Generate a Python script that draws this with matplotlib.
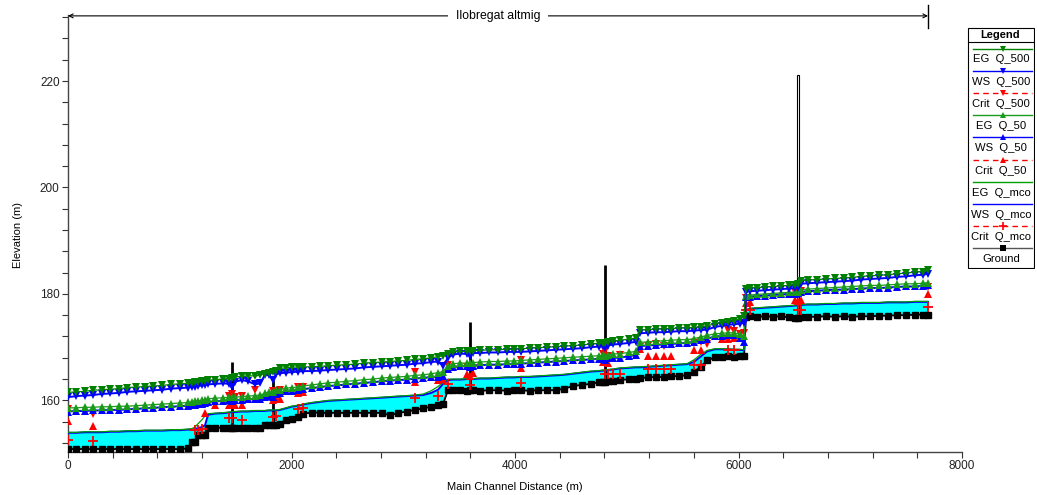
import numpy as np
import matplotlib
matplotlib.use("Agg")
import matplotlib.pyplot as plt
from matplotlib.patches import Rectangle
from matplotlib.ticker import MultipleLocator

plt.rcParams['font.family'] = ['Liberation Sans', 'DejaVu Sans']

# main channel stations (m)
stations = [0, 75, 150, 221, 300, 380, 455, 530, 610, 690, 765, 845, 920, 1000, 1074,
            1110, 1136, 1163, 1200, 1226, 1253,
            1315, 1390, 1440, 1468, 1490, 1554, 1610, 1673, 1718, 1760, 1800, 1835, 1860, 1897, 1950, 2000, 2060, 2100,
            2180, 2255, 2330, 2410, 2490, 2570, 2650, 2730, 2810, 2880, 2950, 3030, 3105, 3180, 3250, 3311, 3356, 3400, 3445,
            3510, 3570, 3597, 3620, 3690, 3770, 3850, 3930, 3990, 4050, 4130, 4210, 4290, 4370, 4440, 4520, 4600, 4680,
            4750, 4790, 4805, 4830, 4880, 4940,
            5020, 5080, 5117, 5190, 5260, 5330, 5400, 5470, 5540, 5600, 5660, 5720, 5790, 5850, 5910, 5960, 6010, 6050,
            6066, 6100, 6170, 6240, 6310, 6380, 6450, 6510, 6532, 6555, 6620, 6700, 6780, 6860, 6940, 7020, 7100, 7180,
            7260, 7340, 7420, 7500, 7580, 7650, 7696]

ground = [150.9, 150.8, 150.9, 150.8, 150.9, 150.8, 150.9, 150.8, 150.9, 150.8, 150.9, 150.8, 150.9, 150.8, 151.0,
          152.2, 152.2, 153.4, 153.4, 153.5, 154.9,
          154.9, 154.8, 154.9, 154.9, 154.8, 154.9, 154.8, 154.9, 154.9, 155.3, 155.3, 155.4, 155.4, 155.6, 156.4, 156.5, 156.9, 157.5,
          157.7, 157.7, 157.6, 157.7, 157.6, 157.7, 157.6, 157.7, 157.6, 157.2, 157.6, 157.9, 158.2, 158.5, 158.8, 159.1, 159.3, 161.9, 161.9,
          161.9, 161.8, 161.9, 161.9, 161.8, 161.9, 161.9, 161.8, 161.9, 161.9, 161.8, 161.9, 161.9, 161.9, 162.2, 162.7, 162.9, 163.1,
          163.4, 163.5, 163.5, 163.6, 163.7, 163.8,
          164.0, 164.1, 164.2, 164.3, 164.4, 164.4, 164.5, 164.6, 164.7, 165.3, 166.3, 167.5, 168.1, 168.2, 168.3, 168.2, 168.3, 168.3,
          175.7, 175.8, 175.7, 175.8, 175.7, 175.8, 175.6, 175.5, 175.5, 175.6, 175.7, 175.7, 175.8, 175.7, 175.8, 175.7, 175.8, 175.8,
          175.9, 175.9, 176.0, 176.0, 176.1, 176.1, 176.1]

ws_mco = [153.9, 153.9, 154.0, 154.0, 154.0, 154.1, 154.1, 154.2, 154.2, 154.3, 154.3, 154.3, 154.4, 154.4, 154.5,
          154.5, 154.6, 154.8, 155.0, 155.3, 157.3,
          157.5, 157.6, 157.7, 157.8, 157.8, 157.9, 157.9, 158.0, 158.0, 158.0, 158.1, 158.1, 158.1, 158.2, 158.5, 158.8, 159.0, 159.2,
          159.5, 159.7, 159.9, 160.0, 160.1, 160.2, 160.3, 160.4, 160.5, 160.6, 160.7, 160.8, 160.9, 161.0, 161.4, 162.0, 163.1, 163.8, 163.9,
          163.9, 164.0, 164.0, 164.0, 164.1, 164.1, 164.2, 164.3, 164.3, 164.4, 164.4, 164.5, 164.6, 164.7, 164.8, 165.0, 165.2, 165.4,
          165.5, 165.6, 165.6, 165.7, 165.8, 166.0,
          166.1, 166.2, 166.2, 166.3, 166.4, 166.5, 166.6, 166.7, 166.8, 167.2, 168.2, 169.2, 169.6, 169.6, 169.6, 169.5, 169.5, 169.4,
          176.9, 177.2, 177.3, 177.4, 177.5, 177.6, 177.7, 177.8, 177.9, 177.9, 178.0, 178.0, 178.1, 178.1, 178.2, 178.2, 178.3, 178.3,
          178.3, 178.4, 178.4, 178.4, 178.5, 178.5, 178.5]

eg_mco = [154.0, 154.0, 154.1, 154.1, 154.1, 154.2, 154.2, 154.3, 154.3, 154.4, 154.4, 154.4, 154.5, 154.5, 154.6,
          154.7, 155.0, 155.6, 156.4, 157.1, 157.5,
          157.6, 157.7, 157.8, 157.9, 157.9, 158.0, 158.0, 158.1, 158.1, 158.1, 158.2, 158.2, 158.2, 158.3, 158.6, 158.9, 159.1, 159.3,
          159.6, 159.8, 160.0, 160.1, 160.2, 160.3, 160.4, 160.5, 160.6, 160.7, 160.8, 160.9, 161.0, 161.2, 161.8, 162.6, 163.4, 164.0, 164.0,
          164.0, 164.1, 164.1, 164.1, 164.2, 164.2, 164.3, 164.4, 164.4, 164.5, 164.5, 164.6, 164.7, 164.8, 164.9, 165.1, 165.3, 165.5,
          165.6, 165.7, 165.7, 165.8, 165.9, 166.1,
          166.2, 166.3, 166.3, 166.4, 166.5, 166.6, 166.7, 166.8, 166.9, 167.6, 168.6, 169.4, 169.7, 169.7, 169.7, 169.6, 169.6, 169.5,
          177.0, 177.3, 177.4, 177.5, 177.6, 177.7, 177.8, 177.9, 178.0, 178.0, 178.1, 178.1, 178.2, 178.2, 178.3, 178.3, 178.4, 178.4,
          178.4, 178.5, 178.5, 178.5, 178.6, 178.6, 178.6]

ws_50 = [157.9, 158.0, 158.0, 158.1, 158.1, 158.2, 158.2, 158.3, 158.4, 158.5, 158.6, 158.7, 158.8, 158.9, 159.0,
         159.1, 159.2, 159.3, 159.4, 159.5, 159.7,
         159.8, 159.9, 160.0, 159.8, 160.0, 160.1, 160.2, 160.2, 160.3, 160.6, 160.9, 160.7, 161.2, 161.4, 161.7, 161.8, 162.0, 162.1,
         162.3, 162.5, 162.7, 162.8, 163.0, 163.1, 163.3, 163.4, 163.6, 163.7, 163.8, 163.9, 164.1, 164.2, 164.4, 164.3, 164.6, 165.9, 166.3,
         166.4, 166.4, 166.2, 166.5, 166.6, 166.7, 166.7, 166.8, 166.8, 166.9, 167.0, 167.1, 167.2, 167.3, 167.4, 167.5, 167.6, 167.7,
         167.8, 167.8, 167.5, 167.9, 168.0, 168.0,
         168.3, 168.5, 170.2, 170.3, 170.4, 170.5, 170.6, 170.7, 170.8, 171.0, 171.3, 171.6, 172.0, 172.1, 172.2, 172.2, 171.8, 171.0,
         179.4, 179.5, 179.6, 179.7, 179.8, 179.9, 180.0, 180.0, 180.1, 180.4, 180.5, 180.6, 180.7, 180.8, 180.8, 180.9, 181.0, 181.1,
         181.1, 181.2, 181.3, 181.4, 181.4, 181.5, 181.6]

eg_50 = [158.6, 158.6, 158.7, 158.7, 158.8, 158.8, 158.9, 158.9, 159.0, 159.1, 159.2, 159.3, 159.4, 159.5, 159.6,
         159.7, 159.8, 159.9, 160.0, 160.1, 160.3,
         160.4, 160.5, 160.6, 160.6, 160.6, 160.7, 160.8, 160.9, 161.0, 161.3, 161.6, 161.6, 161.9, 162.0, 162.3, 162.4, 162.5, 162.7,
         162.9, 163.1, 163.3, 163.4, 163.6, 163.7, 163.9, 164.0, 164.2, 164.3, 164.4, 164.5, 164.7, 164.8, 165.0, 165.2, 165.4, 166.5, 166.9,
         167.0, 167.0, 167.0, 167.1, 167.2, 167.3, 167.3, 167.4, 167.4, 167.5, 167.6, 167.7, 167.8, 167.9, 168.0, 168.1, 168.2, 168.3,
         168.4, 168.5, 168.4, 168.6, 168.7, 168.8,
         169.0, 169.2, 170.9, 171.0, 171.1, 171.2, 171.3, 171.4, 171.4, 171.6, 171.9, 172.2, 172.5, 172.6, 172.7, 172.7, 172.4, 172.0,
         179.7, 179.8, 179.9, 180.0, 180.1, 180.2, 180.3, 180.3, 180.4, 180.8, 180.9, 181.0, 181.1, 181.2, 181.3, 181.4, 181.5, 181.6,
         181.6, 181.7, 181.8, 181.9, 181.9, 182.0, 182.1]

ws_500 = [160.6, 160.8, 160.9, 161.0, 161.2, 161.3, 161.4, 161.6, 161.7, 161.8, 161.9, 162.0, 162.2, 162.3, 162.4,
          162.5, 162.6, 162.7, 162.8, 162.9, 163.0,
          163.1, 163.2, 163.1, 162.5, 163.5, 163.8, 163.6, 163.0, 163.2, 164.7, 164.8, 163.8, 164.9, 165.1, 165.2, 165.3, 165.4, 165.5,
          165.5, 165.6, 165.7, 165.8, 165.9, 166.0, 166.2, 166.3, 166.4, 166.5, 166.6, 166.7, 166.9, 167.0, 167.2, 167.3, 166.5, 168.0, 168.6,
          168.8, 168.7, 168.3, 168.9, 168.9, 169.0, 169.0, 169.1, 169.1, 169.1, 169.2, 169.3, 169.4, 169.5, 169.6, 169.7, 169.8, 170.0,
          170.1, 170.2, 169.8, 170.3, 170.5, 170.6,
          170.8, 171.0, 172.6, 172.7, 172.8, 172.8, 172.9, 173.0, 173.0, 173.1, 173.2, 173.3, 173.8, 174.0, 174.2, 174.3, 174.4, 174.6,
          180.4, 180.5, 180.6, 180.7, 180.8, 180.9, 181.0, 181.1, 181.2, 181.9, 182.0, 182.1, 182.2, 182.3, 182.4, 182.5, 182.7, 182.8,
          182.9, 183.0, 183.2, 183.3, 183.5, 183.6, 183.8]

eg_500 = [161.5, 161.6, 161.7, 161.9, 162.0, 162.1, 162.2, 162.4, 162.5, 162.6, 162.7, 162.8, 163.0, 163.1, 163.2,
          163.3, 163.4, 163.5, 163.6, 163.7, 163.8,
          163.9, 164.0, 164.1, 164.2, 164.4, 164.5, 164.6, 164.6, 164.7, 165.0, 165.2, 165.3, 165.6, 166.0, 166.1, 166.2, 166.3, 166.3,
          166.3, 166.4, 166.5, 166.6, 166.7, 166.8, 167.0, 167.1, 167.2, 167.3, 167.4, 167.5, 167.7, 167.8, 168.0, 168.2, 168.4, 168.8, 169.1,
          169.2, 169.2, 169.2, 169.3, 169.4, 169.5, 169.5, 169.6, 169.6, 169.7, 169.8, 169.9, 170.0, 170.1, 170.2, 170.3, 170.4, 170.6,
          170.7, 170.8, 170.8, 170.9, 171.1, 171.3,
          171.5, 171.7, 173.2, 173.3, 173.4, 173.4, 173.5, 173.6, 173.6, 173.7, 173.8, 174.0, 174.4, 174.6, 174.8, 175.0, 175.3, 175.8,
          181.0, 181.1, 181.2, 181.3, 181.4, 181.5, 181.6, 181.7, 181.8, 182.5, 182.6, 182.7, 182.8, 182.9, 183.0, 183.1, 183.3, 183.4,
          183.5, 183.6, 183.8, 183.9, 184.1, 184.2, 184.4]

# critical depth elevations, only where computed
crit500_x = [0, 221, 1226, 1440, 1468, 1490, 1554, 1673, 1835, 1860, 1897, 2060, 2100, 3105, 3400, 3570, 3597, 3620,
             4050, 4790, 4805, 4830, 4940, 5117, 5190, 5260, 5330, 5600, 5660, 5720, 5910, 5960, 6010, 6050, 6066,
             6510, 6532, 6555, 7696]
crit500 = [158.4, 157.5, 159.4, 160.8, 161.2, 160.7, 160.8, 162.0, 161.8, 161.7, 162.0, 162.6, 162.6, 165.3, 166.6, 166.2,
           166.5, 166.0, 167.5, 168.8, 169.2, 168.3, 168.5, 170.0, 170.3, 170.5, 170.2, 170.8, 171.0, 170.6, 173.2, 173.0,
           172.4, 172.6, 179.3, 180.3, 180.2, 180.5, 181.3]

crit50_x = [0, 221, 1226, 1315, 1440, 1468, 1490, 1554, 1835, 1860, 1897, 2060, 2100, 3105, 3311, 3356, 3570, 3597, 3620,
            4050, 4790, 4805, 4830, 5117, 5190, 5260, 5330, 5400, 5600, 5660, 5850, 5910, 5960, 6066, 6100, 6510, 6532,
            6555, 7696]
crit50 = [156.2, 155.2, 157.7, 159.1, 159.2, 159.3, 159.2, 159.1, 160.0, 160.3, 160.3, 161.4, 161.5, 163.4, 163.8, 164.1,
          164.9, 164.6, 165.1, 166.0, 167.3, 167.8, 167.1, 169.6, 168.3, 168.4, 168.3, 168.4, 169.4, 169.4, 171.6, 171.6,
          171.8, 178.3, 178.5, 178.8, 178.7, 178.9, 179.9]

critmco_x = [0, 221, 1136, 1163, 1200, 1440, 1468, 1554, 1835, 1860, 2060, 2100, 3105, 3311, 3400, 3597, 4050, 4805,
             4830, 4880, 4940, 5190, 5260, 5330, 5400, 5600, 5660, 5910, 5960, 6066, 6100, 6532, 6555, 7696]
critmco = [152.5, 152.4, 154.4, 154.5, 154.7, 156.6, 156.6, 156.4, 156.9, 157.0, 158.4, 158.5, 160.5, 160.8, 163.1, 162.8,
           163.3, 164.9, 165.0, 165.0, 165.0, 165.8, 165.8, 165.8, 165.8, 166.6, 166.6, 169.4, 169.4, 176.9, 176.9, 176.9,
           176.9, 177.5]

# bridges / weirs (deck top elevation)
struct_x = [1468, 1835, 3597, 4805]
struct_top = [167.3, 163.8, 174.7, 185.5]
tower_x = 6532
tower_top = 221.1

reach_name = "Ilobregat altmig"
reach_end = 7696

c_eg500 = '#008000'
c_eg50 = '#1a9a1a'
c_egmco = '#00a000'
c_ws = '#0000ff'
c_crit = '#ff0000'

W, H = 1037, 495
fig = plt.figure(figsize=(W / 100, H / 100), dpi=100)
ax = fig.add_axes([68 / W, 43 / H, (962 - 68) / W, (452 - 15) / H])

ax.fill_between(stations, ground, ws_mco, color='#00ffff', lw=0, zorder=1)

ground_at_struct = np.interp(struct_x, stations, ground)
ax.vlines(struct_x, ground_at_struct, struct_top, color='black', lw=2, zorder=2)
g_tower = np.interp(tower_x, stations, ground)
ax.add_patch(Rectangle((tower_x - 10, g_tower), 20, tower_top - g_tower,
                       facecolor='white', edgecolor='black', lw=0.8, zorder=2))

ax.plot(stations, ground, color='black', marker='s', ms=4.2, lw=1.3, zorder=3)
ax.plot(stations, ws_mco, color=c_ws, lw=1.4, zorder=4)
ax.plot(stations, eg_mco, color=c_egmco, lw=0.9, zorder=4)

ax.plot(critmco_x, critmco, ls='none', marker='+', ms=6.5, mew=1.3, color=c_crit, zorder=5)
ax.plot(crit50_x, crit50, ls='none', marker='^', ms=5.6, mew=0, color=c_crit, zorder=5)
ax.plot(crit500_x, crit500, ls='none', marker='v', ms=5.6, mew=0, color=c_crit, zorder=5)

ax.plot(stations, ws_50, color=c_ws, lw=1.4, marker='^', ms=5.3, mew=0, zorder=6)
ax.plot(stations, eg_50, color=c_eg50, lw=0.9, marker='^', ms=5.3, mew=0, zorder=6)
ax.plot(stations, ws_500, color=c_ws, lw=1.4, marker='v', ms=5.3, mew=0, zorder=7)
ax.plot(stations, eg_500, color=c_eg500, lw=0.9, marker='v', ms=5.3, mew=0, zorder=7)

ax.set_xlim(0, 8000)
ax.set_ylim(150.3, 232.4)
ax.xaxis.set_major_locator(MultipleLocator(2000))
ax.xaxis.set_minor_locator(MultipleLocator(400))
ax.yaxis.set_major_locator(MultipleLocator(20))
ax.yaxis.set_minor_locator(MultipleLocator(4))
ax.tick_params(which='both', direction='out', length=4, width=0.8, color='#333333',
               labelsize=8.5, labelcolor='#222222', pad=2)
for s in ['top', 'right']:
    ax.spines[s].set_visible(False)
for s in ['left', 'bottom']:
    ax.spines[s].set_color('#444444')
    ax.spines[s].set_linewidth(1.0)

fig.text(515 / W, 1 - 487 / H, "Main Channel Distance (m)", ha='center', va='center', fontsize=8)
fig.text(18 / W, 1 - 235 / H, "Elevation (m)", ha='center', va='center', rotation=90, fontsize=8)

# reach name arrow along the top
trans = ax.get_xaxis_transform()
y_arrow = 0.998
ax.annotate('', xy=(0, y_arrow), xytext=(reach_end, y_arrow), xycoords=trans, textcoords=trans,
            arrowprops=dict(arrowstyle='<->', lw=0.8, color='black', mutation_scale=7,
                            shrinkA=0, shrinkB=0), annotation_clip=False)
ax.plot([reach_end, reach_end], [0.970, 1.023], transform=trans, color='black', lw=1, clip_on=False)
ax.text(reach_end / 2, y_arrow, reach_name, transform=trans, ha='center', va='center', fontsize=8.8,
        bbox=dict(boxstyle='square,pad=0.6', fc='white', ec='none'), zorder=8)

# legend (line above, label below)
lax = fig.add_axes([967 / W, 1 - 269 / H, 68 / W, 242 / H])
lax.set_xlim(967, 1035)
lax.set_ylim(269, 27)
lax.axis('off')
lax.add_patch(Rectangle((967.5, 27.5), 66, 240.5, fill=False, ec='black', lw=0.8))
lax.plot([967.5, 1033.5], [41.5, 41.5], color='black', lw=0.8)
lax.text(1000.5, 34.5, "Legend", ha='center', va='center', fontsize=8, weight='bold')

leg_items = [
    ("EG  Q_500", c_eg500, '-', 'v'),
    ("WS  Q_500", c_ws, '-', 'v'),
    ("Crit  Q_500", c_crit, '--', 'v'),
    ("EG  Q_50", c_eg50, '-', '^'),
    ("WS  Q_50", c_ws, '-', '^'),
    ("Crit  Q_50", c_crit, '--', '^'),
    ("EG  Q_mco", c_egmco, '-', None),
    ("WS  Q_mco", c_ws, '-', None),
    ("Crit  Q_mco", c_crit, '--', '+'),
    ("Ground", '#555555', '-', 's'),
]
for i, (lab, col, ls, mk) in enumerate(leg_items):
    yl = 48.5 + 22.2 * i
    lax.plot([973, 1032], [yl, yl], color=col, ls=ls, lw=1, dashes=(4, 3) if ls == '--' else (None, None))
    if mk is not None:
        mcol = 'black' if lab == "Ground" else col
        lax.plot([1002.5], [yl], marker=mk, color=mcol, ms=4.5 if mk != '+' else 6, mew=0 if mk != '+' else 1.2)
    lax.text(1001, yl + 11, lab, ha='center', va='center', fontsize=8.1)

fig.savefig("out.png", dpi=100)
